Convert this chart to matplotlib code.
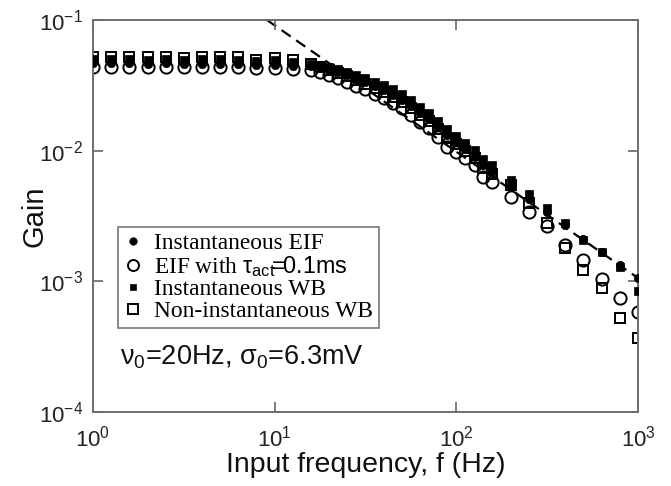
import matplotlib
matplotlib.use("Agg")
import matplotlib.pyplot as plt
from matplotlib.ticker import FixedLocator, NullLocator

plt.rcParams['mathtext.fontset'] = 'custom'
plt.rcParams['mathtext.rm'] = 'Liberation Sans'
plt.rcParams['mathtext.it'] = 'Liberation Sans:italic'
plt.rcParams['mathtext.sf'] = 'Liberation Sans'
plt.rcParams['font.family'] = ['Liberation Sans', 'DejaVu Sans']

# ---- data ----
freq = [1.0, 1.26, 1.58, 2.0, 2.51, 3.16, 3.98, 5.01, 6.31, 7.94, 10.0, 12.6,
        15.8, 17.8, 20.0, 22.4, 25.1, 28.2, 31.6, 35.5, 39.8, 44.7, 50.1, 56.2,
        63.1, 70.8, 79.4, 89.1, 100.0, 112.0, 126.0, 141.0, 158.0,
        200.0, 251.0, 316.0, 398.0, 501.0, 631.0, 794.0, 1000.0]

gain_eif_inst = [0.0466, 0.0465, 0.0466, 0.0464, 0.0465, 0.0463, 0.0462, 0.0461, 0.0459, 0.0456, 0.0452, 0.0447,
                 0.0445, 0.0430, 0.0414, 0.0400, 0.0379, 0.0354, 0.0336, 0.0313, 0.0291, 0.0267, 0.0244,
                 0.0220, 0.0194, 0.0175, 0.0152, 0.0132, 0.0117, 0.0103, 0.00895, 0.00778, 0.00687,
                 5.37e-3, 4.27e-3, 3.40e-3, 2.70e-3, 2.11e-3, 1.68e-3, 1.335e-3, 1.06e-3]

gain_eif_tau = [0.0438, 0.0437, 0.0438, 0.0437, 0.0437, 0.0436, 0.0436, 0.0435, 0.0434, 0.0432, 0.0428, 0.0422,
                0.0414, 0.0400, 0.0379, 0.0360, 0.0336, 0.0313, 0.0297, 0.0272, 0.0253, 0.0232, 0.0212,
                0.0188, 0.0166, 0.0149, 0.0127, 0.0107, 0.00977, 0.00879, 0.00778, 0.00630, 0.00577,
                4.42e-3, 3.40e-3, 2.65e-3, 1.90e-3, 1.46e-3, 1.04e-3, 7.47e-4, 5.83e-4]

gain_wb_inst = [0.0500, 0.0499, 0.0501, 0.0498, 0.0500, 0.0496, 0.0499, 0.0500, 0.0497, 0.0488, 0.0492, 0.0478,
                0.0460, 0.0452, 0.0437, 0.0422, 0.0400, 0.0379, 0.0360, 0.0336, 0.0318, 0.0297, 0.0272,
                0.0244, 0.0216, 0.0194, 0.0169, 0.0146, 0.0129, 0.0115, 0.0101, 0.00865, 0.00778,
                5.97e-3, 4.67e-3, 3.65e-3, 2.80e-3, 2.07e-3, 1.68e-3, 1.29e-3, 8.45e-4]

gain_wb_noninst = [0.0521, 0.0520, 0.0522, 0.0519, 0.0521, 0.0515, 0.0520, 0.0522, 0.0519, 0.0495, 0.0510, 0.0490,
                   0.0460, 0.0437, 0.0414, 0.0393, 0.0373, 0.0348, 0.0324, 0.0302, 0.0281, 0.0258, 0.0236,
                   0.0212, 0.0188, 0.0169, 0.0146, 0.0125, 0.01125, 0.00995, 0.00879, 0.00738, 0.00664,
                   5.47e-3, 3.98e-3, 2.80e-3, 1.80e-3, 1.22e-3, 8.9e-4, 5.2e-4, 3.69e-4]

asym_freq = [9.07, 1000.0]
asym_gain = [0.1, 1.06e-3]

labels = ['Instantaneous EIF',
          r'EIF with $\mathrm{\tau}_{\mathrm{act}}\!\!=\!\!\mathsf{0.1ms}$',
          'Instantaneous WB',
          'Non-instantaneous WB']

xticks = [1, 10, 100, 1000]
xticklabels = [r'$10^{0}$', r'$10^{1}$', r'$10^{2}$', r'$10^{3}$']
yticks = [1e-4, 1e-3, 1e-2, 1e-1]
yticklabels = [r'$10^{-4}$', r'$10^{-3}$', r'$10^{-2}$', r'$10^{-1}$']

# ---- figure ----
fig = plt.figure(figsize=(6.71, 4.86), dpi=100)
ax = fig.add_axes([93/671, 1-412/486, (638-93)/671, (412-20)/486])

ax.plot(asym_freq, asym_gain, color='black', lw=1.6, ls=(0, (5, 3)), zorder=1)

ax.plot(freq, gain_wb_noninst, ls='none', marker='s', ms=7.6, mfc='none', mec='black', mew=1.4,
        label=labels[3], zorder=2)
ax.plot(freq, gain_eif_tau, ls='none', marker='o', ms=8.8, mfc='none', mec='black', mew=1.4,
        label=labels[1], zorder=2)
ax.plot(freq, gain_wb_inst, ls='none', marker='s', ms=5.2, mfc='black', mec='black', mew=0.5,
        label=labels[2], zorder=3)
ax.plot(freq, gain_eif_inst, ls='none', marker='o', ms=6.0, mfc='black', mec='black', mew=0.5,
        label=labels[0], zorder=3)

ax.set_xscale('log')
ax.set_yscale('log')
ax.set_xlim(1, 1000)
ax.set_ylim(1e-4, 1e-1)

ax.xaxis.set_major_locator(FixedLocator(xticks))
ax.yaxis.set_major_locator(FixedLocator(yticks))
ax.xaxis.set_minor_locator(NullLocator())
ax.yaxis.set_minor_locator(NullLocator())
ax.set_xticklabels(xticklabels)
ax.set_yticklabels(yticklabels)
ax.tick_params(which='major', direction='in', length=7, width=1.2, color='#666666',
               labelsize=16, top=True, right=True, labelcolor='#222222')
ax.tick_params(axis='x', pad=10)
ax.tick_params(axis='y', pad=7)

for sp in ax.spines.values():
    sp.set_color('#6e6e6e')
    sp.set_linewidth(1.4)

ax.set_xlabel('Input frequency, f (Hz)', fontsize=20.5, color='#111111')
ax.xaxis.set_label_coords(0.5, (412 - 452) / 392)
ax.set_ylabel('Gain', fontsize=21, color='#111111')
ax.yaxis.set_label_coords((48 - 93) / 545, 0.5)

handles, labs = ax.get_legend_handles_labels()
order = [3, 1, 2, 0]
leg = ax.legend([handles[i] for i in order], [labs[i] for i in order],
                loc='upper left', bbox_to_anchor=(0.046, 0.472),
                prop={'family': 'Liberation Serif', 'size': 16.8},
                frameon=True, fancybox=False, shadow=False, borderpad=0.25,
                labelspacing=0.0, handlelength=0.8, handletextpad=0.5,
                borderaxespad=0.0, markerscale=0.9)
leg.get_frame().set_edgecolor('#555555')
leg.get_frame().set_linewidth(1.2)

ax.text(0.05, 0.14, r'$\mathrm{\nu}_0$=20Hz, $\mathrm{\sigma}_0$=6.3mV', transform=ax.transAxes,
        fontsize=19.5, va='center', ha='left', color='#111111')

fig.savefig('out.png', dpi=100)
